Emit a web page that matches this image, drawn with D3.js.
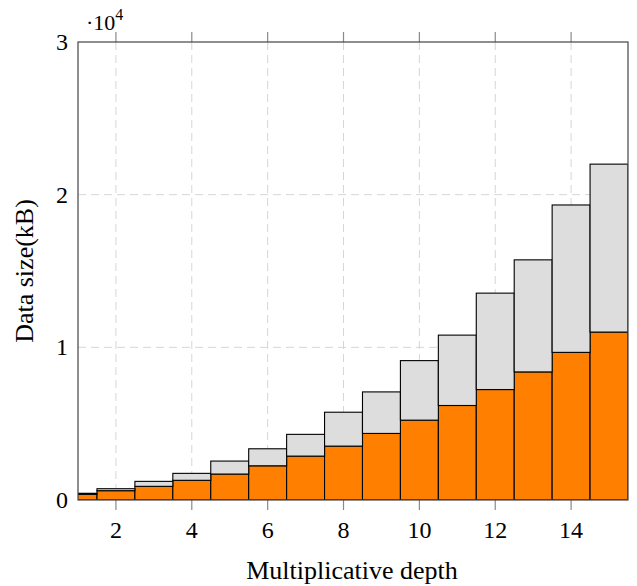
<!DOCTYPE html>
<html>
<head>
<meta charset="utf-8">
<script src="https://cdn.jsdelivr.net/npm/d3@7"></script>
<style>
  body { margin: 0; background: #fff; }
  text { font-family: "Liberation Serif", "DejaVu Serif", serif; fill: #000; }
</style>
</head>
<body>
<div class="visContainer"></div>
<script>
// multiplicative depth 1..15
const depths = [1, 2, 3, 4, 5, 6, 7, 8, 9, 10, 11, 12, 13, 14, 15];
// lower (orange) part of each bar, kB
const orangeValues = [370, 610, 895, 1290, 1700, 2240, 2875, 3530, 4360, 5230, 6190, 7235, 8390, 9670, 11000];
// upper (gray) part stacked on top, kB
const grayValues = [70, 130, 325, 455, 850, 1115, 1425, 2220, 2720, 3900, 4610, 6315, 7340, 9655, 11000];
const xTicks = [2, 4, 6, 8, 10, 12, 14];
const yTicks = [0, 10000, 20000, 30000];

const width = 637;
const height = 586;
const plotLeft = 78, plotRight = 628, plotTop = 42, plotBottom = 500;

const xScale = d3.scaleLinear().domain([1, 15.5]).range([plotLeft, plotRight]);
const yScale = d3.scaleLinear().domain([0, 30000]).range([plotBottom, plotTop]);

const svg = d3.select('.visContainer')
              .append('svg')
              .attr('width', width)
              .attr('height', height);

svg.append('clipPath').attr('id', 'plotClip')
   .append('rect')
   .attr('x', plotLeft).attr('y', plotTop)
   .attr('width', plotRight - plotLeft).attr('height', plotBottom - plotTop);

// grid
const grid = svg.append('g').attr('stroke', '#d6d6d6').attr('stroke-dasharray', '8,5').attr('stroke-width', 1);
grid.selectAll('.gx').data(xTicks).enter().append('line')
    .attr('x1', d => xScale(d)).attr('x2', d => xScale(d))
    .attr('y1', plotTop).attr('y2', plotBottom);
grid.selectAll('.gy').data(yTicks.slice(1, 3)).enter().append('line')
    .attr('x1', plotLeft).attr('x2', plotRight)
    .attr('y1', d => yScale(d)).attr('y2', d => yScale(d));

// stacked bars
const rows = depths.map((d, i) => ({depth: d, orange: orangeValues[i], gray: grayValues[i]}));
const stack = d3.stack().keys(['orange', 'gray'])(rows);
const colors = {orange: '#ff8000', gray: '#dddddd'};

const bars = svg.append('g').attr('clip-path', 'url(#plotClip)');
stack.forEach(layer => {
    bars.selectAll('.b-' + layer.key)
        .data(layer)
        .enter()
        .append('rect')
        .attr('x', d => xScale(d.data.depth - 0.5))
        .attr('width', d => xScale(d.data.depth + 0.5) - xScale(d.data.depth - 0.5))
        .attr('y', d => yScale(d[1]))
        .attr('height', d => yScale(d[0]) - yScale(d[1]))
        .attr('fill', colors[layer.key])
        .attr('stroke', '#000')
        .attr('stroke-width', 1.1);
});

// ticks on top and bottom, outside
const ticks = svg.append('g').attr('stroke', '#8a8a8a').attr('stroke-width', 1.2);
ticks.selectAll('.tb').data(xTicks).enter().append('line')
     .attr('x1', d => xScale(d)).attr('x2', d => xScale(d))
     .attr('y1', plotBottom).attr('y2', plotBottom + 10);
ticks.selectAll('.tt').data(xTicks).enter().append('line')
     .attr('x1', d => xScale(d)).attr('x2', d => xScale(d))
     .attr('y1', plotTop).attr('y2', plotTop - 10);

// frame
svg.append('rect')
   .attr('x', plotLeft).attr('y', plotTop)
   .attr('width', plotRight - plotLeft).attr('height', plotBottom - plotTop)
   .attr('fill', 'none').attr('stroke', '#444').attr('stroke-width', 1.2);

// tick labels
svg.selectAll('.xl').data(xTicks).enter().append('text')
   .attr('x', d => xScale(d)).attr('y', 538)
   .attr('text-anchor', 'middle').attr('font-size', 24)
   .text(d => d);
svg.selectAll('.yl').data(yTicks).enter().append('text')
   .attr('x', 68).attr('y', d => yScale(d) + 8)
   .attr('text-anchor', 'end').attr('font-size', 24)
   .text(d => d / 10000);

const mult = svg.append('text').attr('x', 86).attr('y', 30).attr('font-size', 22);
mult.append('tspan').text('\u00b710');
mult.append('tspan').attr('font-size', 16).attr('dy', -10).text('4');

// axis labels
svg.append('text')
   .attr('x', (plotLeft + plotRight) / 2 - 1).attr('y', 579)
   .attr('text-anchor', 'middle').attr('font-size', 26)
   .text('Multiplicative depth');
svg.append('text')
   .attr('transform', 'translate(33,' + ((plotTop + plotBottom) / 2) + ') rotate(-90)')
   .attr('text-anchor', 'middle').attr('font-size', 26)
   .text('Data size(kB)');
</script>
</body>
</html>
